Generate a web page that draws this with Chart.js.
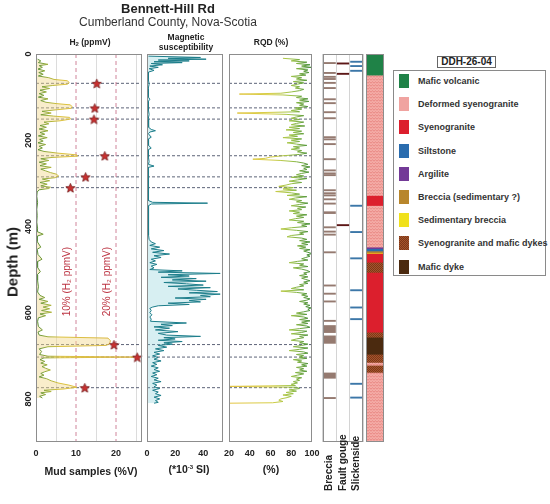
<!DOCTYPE html>
<html><head><meta charset="utf-8">
<script src="https://cdn.jsdelivr.net/npm/chart.js@4.4.1/dist/chart.umd.min.js"></script>
<style>
html,body{margin:0;padding:0;}
body{width:550px;height:504px;background:#fff;position:relative;overflow:hidden;font-family:"Liberation Sans",Arial,sans-serif;color:#222;}
canvas{position:absolute;top:0;}
.t{position:absolute;white-space:nowrap;line-height:1;transform:translate(-50%,-50%);}
.rot{transform:translate(-50%,-50%) rotate(-90deg);}
#legend{position:absolute;left:393px;top:70px;width:153px;height:206px;border:1px solid #8a8a8a;box-sizing:border-box;}
#legTitle{position:absolute;left:437px;top:56px;width:59px;height:12px;border:1px solid #666;box-sizing:border-box;font-weight:bold;font-size:10px;line-height:10px;text-align:center;}
.sw{position:absolute;left:399px;width:10px;height:14px;}
.lt{position:absolute;left:418px;font-weight:bold;font-size:9px;line-height:1;white-space:nowrap;color:#333;transform:translateY(-50%);}
</style></head><body>
<canvas id="cH2" width="146" height="504" style="left:0px"></canvas>
<canvas id="cMag" width="110" height="504" style="left:132px"></canvas>
<canvas id="cRqd" width="118" height="504" style="left:212px"></canvas>
<canvas id="cStr" width="50" height="504" style="left:318px"></canvas>
<canvas id="cLit" width="26" height="504" style="left:362px"></canvas>
<div id="legend"></div>
<div id="legTitle">DDH-26-04</div>
<script>
// ---------------- DATA ----------------
const depthTicks = [0, 200, 400, 600, 800];

const h2Depth = [12,16,20,24,27,31,35,39,43,47,51,55,59,62,66,70,73,76,80,84,88,92,96,100,104,108,112,115,118,122,126,130,133,137,141,144,147,151,155,158,162,166,170,174,178,182,186,190,194,198,202,206,210,214,218,222,226,230,234,237,240,243,247,251,255,259,263,267,271,275,279,283,287,290,294,298,302,306,309,312,315,320,330,345,360,375,390,405,412,418,422,435,448,453,465,476,482,495,505,512,525,540,552,560,565,569,574,578,583,587,591,595,599,603,607,612,620,632,640,645,652,656,659,665,672,676,679,684,690,697,701,703,705,709,713,717,721,725,729,733,737,741,745,749,753,758,763,768,773,777,780,783,786,790,794,798];
const h2Value = [0.4,1.2,0.6,3.0,0.8,1.6,0.5,2.2,0.7,1.8,0.6,3.2,4.5,7.8,8.3,7.9,4.2,1.5,3.4,1.0,2.6,0.8,2.0,0.6,3.0,1.2,2.5,5.0,8.6,9.0,8.8,4.5,1.5,3.8,1.2,4.4,8.4,8.6,6.0,2.0,3.2,1.0,2.6,0.8,3.0,1.0,2.2,0.6,2.8,0.9,1.8,0.5,2.4,0.8,1.6,0.5,2.0,5.5,10.2,10.4,4.0,1.2,3.2,0.8,2.6,1.0,3.8,1.2,2.4,3.6,5.2,5.6,4.8,1.6,3.4,1.0,2.8,1.2,3.6,3.2,0.8,0.3,0.2,0.4,0.2,0.3,0.2,0.4,0.3,1.8,0.4,0.3,1.2,0.3,0.5,1.5,0.3,0.4,1.1,0.3,0.4,0.6,0.4,1.0,2.2,0.8,3.0,1.2,3.8,1.8,3.4,1.4,3.9,1.0,2.4,0.6,0.4,0.6,1.6,0.5,0.8,3.0,18.0,18.6,18.4,17.5,3.0,0.8,1.4,0.9,3.0,24.6,2.0,1.0,2.2,1.2,2.8,1.5,2.4,3.6,2.2,1.2,2.0,0.8,2.6,3.8,5.5,8.2,10.2,7.0,2.0,3.8,1.2,2.4,0.9,1.6];

const sampleDepth = [68,125,151,236,285,310,674,703,774];
const sampleValue = [15.2,14.7,14.5,17.2,12.4,8.6,19.5,25.3,12.2];
const thresholds = [10, 20];

const magDepth = [5,8,10,12,14,16,18,20,22,25,28,31,34,38,42,50,60,70,80,90,100,105,110,120,130,140,150,160,170,175,178,181,185,193,197,205,212,218,222,230,240,250,256,260,263,270,280,290,300,310,320,330,340,344,346,348,352,360,370,380,390,400,410,420,430,436,440,444,448,452,456,460,464,468,472,476,480,484,488,492,496,500,503,506,509,512,515,518,521,524,527,530,533,536,539,542,545,548,551,554,557,560,563,566,569,572,575,578,581,584,587,590,595,600,605,610,615,620,624,627,630,633,636,640,644,648,652,655,658,661,664,667,670,673,676,680,684,688,692,696,700,704,708,712,716,720,724,728,732,736,740,744,748,752,756,760,764,768,772,776,780,784,788,792,796,800,804,808,810];
const magValue = [1,38,15,42,8,30,5,25,3,11,2,8,1.5,5,1,1.2,0.8,1.5,0.9,1.2,0.8,2,0.9,1.2,0.8,1.5,0.9,1.3,1,3,6,2,1,3,1,1.2,1,3,1,1.2,0.9,1.5,1,5,1,1.2,1,1.3,0.9,1.2,1,1.1,1,4,43,3,1,1.2,0.9,1.1,1,1.3,1,1.2,1.5,3,6,2,9,3,12,4,16,5,10,3,6,2,7,3,5,2,25,8,52,15,30,10,35,18,42,12,28,40,15,45,22,35,50,30,52,38,45,20,42,30,38,15,30,8,4,2,3,2,3.5,2,3,2.5,28,10,18,5,16,6,22,8,14,38,12,20,8,25,12,18,8,14,6,12,5,9,4,8,5,10,4,7,3,8,5,9,4,7,3,8,5,10,4,7,5,9,4,8,6,10,5,9,6,8,5];

const rqdDepth = [10,13,16,19,22,25,28,31,34,37,40,43,46,49,52,55,58,61,64,67,70,73,76,79,82,85,88,91,93,95,98,101,104,107,110,113,116,119,122,125,128,131,134,137,140,143,146,149,152,155,158,161,164,167,170,173,176,179,182,185,188,191,194,197,200,203,206,209,212,215,218,221,224,227,230,233,236,239,242,244,247,250,253,256,259,262,265,268,271,274,277,280,283,286,289,292,295,298,301,304,307,310,313,316,319,322,325,328,331,334,337,340,343,346,349,352,355,358,361,364,367,370,373,376,379,382,385,388,391,394,397,400,403,406,409,412,415,418,421,424,427,430,433,436,439,442,445,448,451,454,457,460,463,466,469,472,475,478,481,484,487,490,493,496,499,502,505,508,511,514,517,520,523,526,529,532,535,538,541,544,547,550,553,556,559,562,565,568,571,574,577,580,583,586,589,592,595,598,601,604,607,610,613,616,619,622,625,628,631,634,637,640,643,646,649,652,655,658,661,664,667,670,673,676,679,682,685,688,691,694,697,700,703,706,709,712,715,718,721,724,727,730,733,736,739,742,745,748,751,754,757,760,763,766,769,771,773,776,779,782,785,788,791,794,797,800,803,806,809,810];
const rqdValue = [72,88,80,95,85,98,90,99,85,96,92,97,88,94,80,90,85,95,82,92,86,80,88,84,92,88,80,70,30,72,90,85,96,88,97,85,92,88,96,84,90,80,88,28,75,92,85,80,88,78,92,85,80,93,78,88,75,90,82,92,78,86,72,90,80,88,76,85,95,82,88,80,90,86,95,88,72,60,55,43,70,85,92,96,90,98,92,95,88,97,90,85,92,80,95,86,78,90,80,75,68,82,72,85,65,80,88,76,95,84,78,90,85,96,88,80,94,86,90,78,88,82,95,85,92,84,78,92,86,98,90,95,80,70,85,96,88,92,80,76,90,95,88,98,90,96,86,94,88,98,92,96,100,95,98,94,90,96,86,78,92,88,96,82,90,95,98,92,95,88,96,90,94,98,92,96,88,92,85,80,92,70,85,95,90,96,92,98,95,88,96,92,98,94,99,96,98,92,85,95,80,92,96,88,98,90,96,85,95,98,88,78,95,90,80,96,88,92,85,80,92,88,96,90,82,96,88,78,92,96,85,92,88,95,82,90,86,96,90,95,85,92,88,95,84,92,86,80,90,85,88,82,86,80,84,20,85,88,78,85,75,82,72,80,76,70,68,72,62,20];

const structLabels = ['Breccia', 'Fault gouge', 'Slickenside'];
const brecciaDepth = [21,44,53,58,67,79,105,114,135,149,193,198,209,244,270,277,281,316,323,328,337,347,402,412,419,460,537,556,574,619,798];
const brecciaBandTop = [365,629,653,739];
const brecciaBandBottom = [371,647,672,753];
const faultDepth = [22,46,397];
const slickDepth = [18,28,39,352,413,474,548,588,615,765,797];

const lithoNames = ['Mafic volcanic','Deformed syenogranite','Syenogranite','Siltstone','Argilite','Breccia (sedimentary ?)','Sedimentary breccia','Syenogranite and mafic dykes','Mafic dyke'];
const lithoTop    = [0, 49, 328, 353, 448, 453, 457, 461, 464, 483, 508, 645, 657, 698, 717, 722, 740];
const lithoBottom = [49, 328, 353, 448, 453, 457, 461, 464, 483, 508, 645, 657, 698, 717, 722, 740, 900];
const lithoUnit   = ['Mafic volcanic','Deformed syenogranite','Syenogranite','Deformed syenogranite','Argilite','Siltstone','Breccia (sedimentary ?)','Sedimentary breccia','Syenogranite','Syenogranite and mafic dykes','Syenogranite','Syenogranite and mafic dykes','Mafic dyke','Syenogranite and mafic dykes','Deformed syenogranite','Syenogranite and mafic dykes','Deformed syenogranite'];

// ---------------- STYLE ----------------
const FONT = '"Liberation Sans", Arial, sans-serif';
const DEPTH_MAX = 900, H2_MAX = 26.5, MAG_MAX = 54;
const PAD_TOP = 54, XAXIS_H = 62;
const LINE_GREY = '#5d6478';
const MARK = 2.2;

function tile(w,h,draw){const c=document.createElement('canvas');c.width=w;c.height=h;draw(c.getContext('2d'),w,h);return c;}
const deformedTile = tile(6,3,(g,w,h)=>{g.fillStyle='#f4aca7';g.fillRect(0,0,w,h);g.strokeStyle='#e47d79';g.lineWidth=0.8;g.beginPath();g.moveTo(0,2.2);g.lineTo(1.5,0.8);g.lineTo(3,2.2);g.lineTo(4.5,0.8);g.lineTo(6,2.2);g.stroke();});
const dykeTile = tile(2,2,(g)=>{g.fillStyle='#a5552c';g.fillRect(0,0,2,2);g.fillStyle='#7c3719';g.fillRect(0,0,1,1);g.fillRect(1,1,1,1);});
const pctx = document.createElement('canvas').getContext('2d');
const lithoFill = {
  'Mafic volcanic':'#1f8247',
  'Deformed syenogranite': pctx.createPattern(deformedTile,'repeat'),
  'Syenogranite':'#dc1f2d',
  'Siltstone':'#2a6cae',
  'Argilite':'#733a97',
  'Breccia (sedimentary ?)':'#b8862c',
  'Sedimentary breccia':'#f0e11c',
  'Syenogranite and mafic dykes': pctx.createPattern(dykeTile,'repeat'),
  'Mafic dyke':'#4b2a0f'
};
const legendSwatch = {
  'Mafic volcanic':'#1f8247','Deformed syenogranite':'#f0a3a0','Syenogranite':'#dc1f2d','Siltstone':'#2a6cae',
  'Argilite':'#733a97','Breccia (sedimentary ?)':'#b8862c','Sedimentary breccia':'#f0e11c',
  'Syenogranite and mafic dykes':'url('+dykeTile.toDataURL()+')','Mafic dyke':'#4b2a0f'
};

function makeStar(size){const c=document.createElement('canvas');c.width=c.height=size;const g=c.getContext('2d');
  const cx=size/2, cy=size/2+0.6, R=size/2-0.6, r=R*0.45;g.beginPath();
  for(let i=0;i<10;i++){const a=-Math.PI/2+i*Math.PI/5;const rr=i%2?r:R;g.lineTo(cx+rr*Math.cos(a),cy+rr*Math.sin(a));}
  g.closePath();g.fillStyle='#c9302f';g.fill();g.strokeStyle='#6a1414';g.lineWidth=0.7;g.stroke();return c;}
const starImg = makeStar(11);

function hGradient(chart, stops){
  const {ctx, chartArea, scales} = chart; const x = scales.x;
  if(!chartArea) return stops[0][1];
  const x0 = x.getPixelForValue(x.min), x1 = x.getPixelForValue(x.max);
  const g = ctx.createLinearGradient(x0,0,x1,0);
  stops.forEach(([v,c])=>g.addColorStop(Math.min(1,Math.max(0,(v-x.min)/(x.max-x.min))),c));
  return g;
}

const framePlugin = {id:'frame', afterDatasetsDraw(chart){const {ctx, chartArea:a}=chart;ctx.save();ctx.strokeStyle='#8d8d8d';ctx.lineWidth=1;
  ctx.strokeRect(Math.round(a.left)+0.5,Math.round(a.top)+0.5,Math.round(a.right-a.left)-1,Math.round(a.bottom-a.top)-1);ctx.restore();}};

function xTickFont(){return {family:FONT,size:9,weight:'bold'};}
function fitX(s){s.height=XAXIS_H;}
function depthScale(){return {type:'linear',min:0,max:DEPTH_MAX,reverse:true,afterFit(s){s.width=0;},grid:{display:false},border:{display:false},ticks:{display:false}};}
function layoutPad(l,r){return {padding:{left:l,right:r,top:PAD_TOP,bottom:0},autoPadding:false};}
function commonOpts(padL,padR){return {responsive:false,animation:false,events:[],indexAxis:'y',
  layout:layoutPad(padL,padR),
  plugins:{legend:{display:false},tooltip:{enabled:false}},
  elements:{point:{radius:0},line:{tension:0}}};}
function depthLineSets(xmin,xmax){return sampleDepth.map(d=>({type:'line',data:[{x:xmin,y:d},{x:xmax,y:d}],borderColor:LINE_GREY,borderWidth:1,borderDash:[3,2],pointRadius:0,fill:false,order:3}));}

// ---------------- H2 PANEL ----------------
const H2_STOPS = [[0,'#4e8a3a'],[2.5,'#97ad3e'],[6,'#dcc23e'],[26.5,'#d9b24a']];
const h2Extras = {id:'h2extras', afterDraw(chart){const {ctx, scales:{x,y}}=chart;ctx.save();
  ctx.fillStyle='#222';ctx.font='bold 9px '+FONT;ctx.textAlign='center';ctx.textBaseline='middle';
  depthTicks.forEach(v=>{ctx.save();ctx.translate(29,y.getPixelForValue(v));ctx.rotate(-Math.PI/2);ctx.fillText(String(v),0,0);ctx.restore();});
  ctx.fillStyle='#bc3442';ctx.font='10px '+FONT;
  thresholds.forEach(t=>{ctx.save();ctx.translate(x.getPixelForValue(t)-9,y.getPixelForValue(528));ctx.rotate(-Math.PI/2);ctx.fillText(t+'% (H\u2082 ppmV)',0,0);ctx.restore();});
  ctx.restore();}};
new Chart(document.getElementById('cH2'),{type:'line',
  data:{datasets:[
    {type:'scatter',data:sampleDepth.map((d,i)=>({x:sampleValue[i],y:d})),pointStyle:starImg,pointRadius:6,clip:false,order:0},
    {data:h2Depth.map((d,i)=>({x:h2Value[i],y:d})),borderWidth:1,borderColor:c=>hGradient(c.chart,H2_STOPS),fill:'origin',backgroundColor:'rgba(242,214,140,0.45)',pointRadius:0,order:1},
    ...thresholds.map(t=>({data:[{x:t,y:0},{x:t,y:DEPTH_MAX}],borderColor:'#d0849a',borderWidth:1,borderDash:[4,3],pointRadius:0,fill:false,order:2})),
    ...depthLineSets(0,H2_MAX)
  ]},
  options:Object.assign(commonOpts(36,4),{scales:{
    x:{type:'linear',min:0,max:H2_MAX,position:'bottom',afterFit:fitX,border:{display:false},
       grid:{drawTicks:false,color:c=>(c.tick&&c.tick.value%10===5)?'#dcdcdc':'rgba(0,0,0,0)'},
       ticks:{stepSize:5,includeBounds:false,padding:6,maxRotation:0,autoSkip:false,color:'#222',font:xTickFont(),callback:v=>v%10===0?String(v):''}},
    y:depthScale()}}),
  plugins:[framePlugin,h2Extras]});

// ---------------- MAGNETIC PANEL ----------------
new Chart(document.getElementById('cMag'),{type:'line',
  data:{datasets:[
    {data:magDepth.map((d,i)=>({x:magValue[i],y:d})),borderWidth:1,borderColor:'#1c7d8a',fill:'origin',backgroundColor:'rgba(130,205,215,0.32)',pointRadius:0,order:1},
    ...depthLineSets(0,MAG_MAX)
  ]},
  options:Object.assign(commonOpts(15,19),{scales:{
    x:{type:'linear',min:0,max:MAG_MAX,afterFit:fitX,border:{display:false},grid:{display:false,drawTicks:false},
       ticks:{stepSize:20,includeBounds:false,padding:6,maxRotation:0,autoSkip:false,color:'#222',font:xTickFont()}},
    y:depthScale()}}),
  plugins:[framePlugin]});

// ---------------- RQD PANEL ----------------
const RQD_STOPS = [[20,'#e4c441'],[60,'#d6cd45'],[80,'#9cc247'],[100,'#3f8a3a']];
new Chart(document.getElementById('cRqd'),{type:'line',
  data:{datasets:[
    {data:rqdDepth.map((d,i)=>({x:rqdValue[i],y:d})),borderWidth:1,borderColor:c=>hGradient(c.chart,RQD_STOPS),fill:false,pointRadius:0,order:1},
    ...depthLineSets(20,100)
  ]},
  options:Object.assign(commonOpts(17,18),{scales:{
    x:{type:'linear',min:20,max:100,afterFit:fitX,border:{display:false},grid:{display:false,drawTicks:false},
       ticks:{stepSize:20,includeBounds:false,padding:6,maxRotation:0,autoSkip:false,color:'#222',font:xTickFont()}},
    y:depthScale()}}),
  plugins:[framePlugin]});

// ---------------- STRUCTURES ----------------
const strLabelsPlugin = {id:'strLabels', afterDraw(chart){const {ctx, scales:{x}}=chart;ctx.save();ctx.fillStyle='#222';ctx.font='bold 10px '+FONT;ctx.textAlign='left';ctx.textBaseline='middle';
  structLabels.forEach((l,i)=>{ctx.save();ctx.translate(x.getPixelForValue(i),491);ctx.rotate(-Math.PI/2);ctx.fillText(l,0,0);ctx.restore();});ctx.restore();}};
const markBars = (arr,label)=>arr.map(d=>({x:label,y:[d-MARK,d+MARK]}));
new Chart(document.getElementById('cStr'),{type:'bar',
  data:{labels:structLabels,datasets:[
    {data:markBars(brecciaDepth,'Breccia').concat(brecciaBandTop.map((t,i)=>({x:'Breccia',y:[t,brecciaBandBottom[i]]}))),backgroundColor:'#957a70',grouped:false,barPercentage:0.92,categoryPercentage:1},
    {data:markBars(faultDepth,'Fault gouge'),backgroundColor:'#5c1616',grouped:false,barPercentage:0.92,categoryPercentage:1},
    {data:markBars(slickDepth,'Slickenside'),backgroundColor:'#3c77a8',grouped:false,barPercentage:0.92,categoryPercentage:1}
  ]},
  options:{responsive:false,animation:false,events:[],layout:layoutPad(5,5),
    plugins:{legend:{display:false},tooltip:{enabled:false}},
    scales:{x:{type:'category',afterFit:fitX,border:{display:false},grid:{offset:true,color:'#d4d4d4',drawTicks:false},ticks:{display:false}},
      y:depthScale()}},
  plugins:[framePlugin,strLabelsPlugin]});

// ---------------- LITHOLOGY ----------------
new Chart(document.getElementById('cLit'),{type:'bar',
  data:{labels:['DDH-26-04'],datasets:lithoNames.map(n=>({
    data:lithoTop.map((t,i)=>lithoUnit[i]===n?{x:'DDH-26-04',y:[t,lithoBottom[i]]}:null).filter(Boolean),
    backgroundColor:lithoFill[n],grouped:false,barPercentage:1,categoryPercentage:1}))},
  options:{responsive:false,animation:false,events:[],layout:layoutPad(4,4),
    plugins:{legend:{display:false},tooltip:{enabled:false}},
    scales:{x:{type:'category',afterFit:fitX,border:{display:false},grid:{display:false},ticks:{display:false}},
      y:depthScale()}},
  plugins:[framePlugin]});

// ---------------- LEGEND ----------------
lithoNames.forEach((n,i)=>{const cy=81+i*23.2;
  const s=document.createElement('div');s.className='sw';s.style.top=(cy-7)+'px';s.style.background=legendSwatch[n];document.body.appendChild(s);
  const l=document.createElement('div');l.className='lt';l.style.top=cy+'px';l.textContent=n;document.body.appendChild(l);});

// ---------------- TEXTS ----------------
function txt(html,cx,cy,css){const d=document.createElement('div');d.className='t';d.innerHTML=html;d.style.left=cx+'px';d.style.top=cy+'px';d.style.cssText+=css||'';document.body.appendChild(d);return d;}
txt('Bennett-Hill Rd',168,8,'font-weight:bold;font-size:13px;');
txt('Cumberland County, Nova-Scotia',168,21.5,'font-size:12px;color:#333;');
txt('H<span style="font-size:6px;vertical-align:-1px">2</span> (ppmV)',90,42,'font-weight:bold;font-size:8.5px;');
txt('Magnetic',186,37,'font-weight:bold;font-size:8.5px;');
txt('susceptibility',186,47,'font-weight:bold;font-size:8.5px;');
txt('RQD (%)',271,42,'font-weight:bold;font-size:8.5px;');
txt('Mud samples (%V)',91,471,'font-weight:bold;font-size:10.5px;');
txt('(*10<sup style="font-size:6px">-3</sup> SI)',189,469,'font-weight:bold;font-size:10.5px;');
txt('(%)',271,469,'font-weight:bold;font-size:10.5px;');
const dp=txt('Depth (m)',12,262,'font-weight:bold;font-size:15px;');dp.classList.add('rot');
</script>
</body></html>
